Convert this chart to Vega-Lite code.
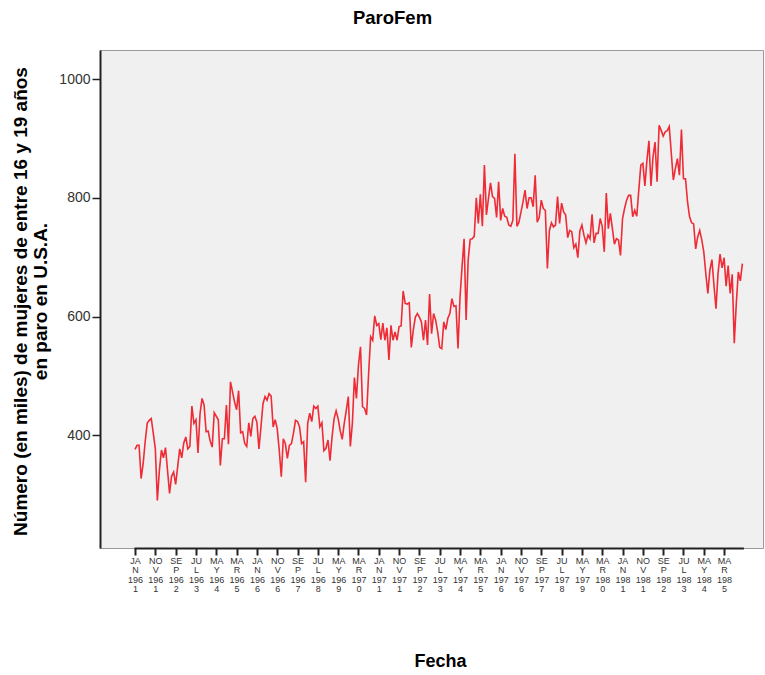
{
  "$schema": "https://vega.github.io/schema/vega-lite/v6.json",
  "width": 663,
  "height": 498,
  "autosize": "none",
  "padding": {"left": 100, "top": 50, "right": 2, "bottom": 127},
  "background": "white",
  "config": {
    "font": "Liberation Sans",
    "view": {"fill": "#f0f0f0", "stroke": "#9a9a9a", "strokeWidth": 1}
  },
  "title": {"text": "ParoFem", "fontSize": 18.5, "fontWeight": "bold", "color": "#000", "anchor": "middle", "dx": -39, "offset": 8, "baseline": "alphabetic"},
  "data": {"values": [
    {"f":"JAN 1961","v":376},{"f":"FEB 1961","v":383},{"f":"MAR 1961","v":383},{"f":"APR 1961","v":327},{"f":"MAY 1961","v":352},{"f":"JUN 1961","v":389},{"f":"JUL 1961","v":420},{"f":"AUG 1961","v":425},{"f":"SEP 1961","v":428},{"f":"OCT 1961","v":403},{"f":"NOV 1961","v":377},{"f":"DEC 1961","v":290},
    {"f":"JAN 1962","v":341},{"f":"FEB 1962","v":375},{"f":"MAR 1962","v":362},{"f":"APR 1962","v":379},{"f":"MAY 1962","v":341},{"f":"JUN 1962","v":302},{"f":"JUL 1962","v":331},{"f":"AUG 1962","v":338},{"f":"SEP 1962","v":317},{"f":"OCT 1962","v":347},{"f":"NOV 1962","v":377},{"f":"DEC 1962","v":362},
    {"f":"JAN 1963","v":387},{"f":"FEB 1963","v":397},{"f":"MAR 1963","v":377},{"f":"APR 1963","v":381},{"f":"MAY 1963","v":449},{"f":"JUN 1963","v":420},{"f":"JUL 1963","v":426},{"f":"AUG 1963","v":370},{"f":"SEP 1963","v":436},{"f":"OCT 1963","v":462},{"f":"NOV 1963","v":451},{"f":"DEC 1963","v":406},
    {"f":"JAN 1964","v":407},{"f":"FEB 1964","v":390},{"f":"MAR 1964","v":380},{"f":"APR 1964","v":438},{"f":"MAY 1964","v":432},{"f":"JUN 1964","v":426},{"f":"JUL 1964","v":349},{"f":"AUG 1964","v":394},{"f":"SEP 1964","v":394},{"f":"OCT 1964","v":451},{"f":"NOV 1964","v":385},{"f":"DEC 1964","v":490},
    {"f":"JAN 1965","v":473},{"f":"FEB 1965","v":456},{"f":"MAR 1965","v":443},{"f":"APR 1965","v":475},{"f":"MAY 1965","v":404},{"f":"JUN 1965","v":406},{"f":"JUL 1965","v":386},{"f":"AUG 1965","v":381},{"f":"SEP 1965","v":421},{"f":"OCT 1965","v":398},{"f":"NOV 1965","v":428},{"f":"DEC 1965","v":432},
    {"f":"JAN 1966","v":422},{"f":"FEB 1966","v":377},{"f":"MAR 1966","v":414},{"f":"APR 1966","v":453},{"f":"MAY 1966","v":465},{"f":"JUN 1966","v":459},{"f":"JUL 1966","v":470},{"f":"AUG 1966","v":466},{"f":"SEP 1966","v":414},{"f":"OCT 1966","v":426},{"f":"NOV 1966","v":411},{"f":"DEC 1966","v":375},
    {"f":"JAN 1967","v":330},{"f":"FEB 1967","v":394},{"f":"MAR 1967","v":386},{"f":"APR 1967","v":361},{"f":"MAY 1967","v":383},{"f":"JUN 1967","v":386},{"f":"JUL 1967","v":403},{"f":"AUG 1967","v":425},{"f":"SEP 1967","v":423},{"f":"OCT 1967","v":414},{"f":"NOV 1967","v":386},{"f":"DEC 1967","v":389},
    {"f":"JAN 1968","v":321},{"f":"FEB 1968","v":420},{"f":"MAR 1968","v":437},{"f":"APR 1968","v":423},{"f":"MAY 1968","v":449},{"f":"JUN 1968","v":445},{"f":"JUL 1968","v":449},{"f":"AUG 1968","v":414},{"f":"SEP 1968","v":421},{"f":"OCT 1968","v":374},{"f":"NOV 1968","v":378},{"f":"DEC 1968","v":392},
    {"f":"JAN 1969","v":357},{"f":"FEB 1969","v":397},{"f":"MAR 1969","v":428},{"f":"APR 1969","v":441},{"f":"MAY 1969","v":428},{"f":"JUN 1969","v":408},{"f":"JUL 1969","v":393},{"f":"AUG 1969","v":420},{"f":"SEP 1969","v":442},{"f":"OCT 1969","v":465},{"f":"NOV 1969","v":381},{"f":"DEC 1969","v":420},
    {"f":"JAN 1970","v":497},{"f":"FEB 1970","v":462},{"f":"MAR 1970","v":518},{"f":"APR 1970","v":549},{"f":"MAY 1970","v":448},{"f":"JUN 1970","v":445},{"f":"JUL 1970","v":434},{"f":"AUG 1970","v":504},{"f":"SEP 1970","v":566},{"f":"OCT 1970","v":560},{"f":"NOV 1970","v":601},{"f":"DEC 1970","v":585},
    {"f":"JAN 1971","v":588},{"f":"FEB 1971","v":561},{"f":"MAR 1971","v":589},{"f":"APR 1971","v":560},{"f":"MAY 1971","v":581},{"f":"JUN 1971","v":527},{"f":"JUL 1971","v":585},{"f":"AUG 1971","v":560},{"f":"SEP 1971","v":574},{"f":"OCT 1971","v":560},{"f":"NOV 1971","v":583},{"f":"DEC 1971","v":584},
    {"f":"JAN 1972","v":643},{"f":"FEB 1972","v":622},{"f":"MAR 1972","v":621},{"f":"APR 1972","v":623},{"f":"MAY 1972","v":548},{"f":"JUN 1972","v":577},{"f":"JUL 1972","v":599},{"f":"AUG 1972","v":605},{"f":"SEP 1972","v":599},{"f":"OCT 1972","v":591},{"f":"NOV 1972","v":560},{"f":"DEC 1972","v":594},
    {"f":"JAN 1973","v":552},{"f":"FEB 1973","v":638},{"f":"MAR 1973","v":571},{"f":"APR 1973","v":605},{"f":"MAY 1973","v":594},{"f":"JUN 1973","v":574},{"f":"JUL 1973","v":548},{"f":"AUG 1973","v":546},{"f":"SEP 1973","v":591},{"f":"OCT 1973","v":578},{"f":"NOV 1973","v":597},{"f":"DEC 1973","v":605},
    {"f":"JAN 1974","v":630},{"f":"FEB 1974","v":617},{"f":"MAR 1974","v":618},{"f":"APR 1974","v":546},{"f":"MAY 1974","v":633},{"f":"JUN 1974","v":684},{"f":"JUL 1974","v":731},{"f":"AUG 1974","v":594},{"f":"SEP 1974","v":695},{"f":"OCT 1974","v":730},{"f":"NOV 1974","v":731},{"f":"DEC 1974","v":735},
    {"f":"JAN 1975","v":800},{"f":"FEB 1975","v":757},{"f":"MAR 1975","v":806},{"f":"APR 1975","v":752},{"f":"MAY 1975","v":855},{"f":"JUN 1975","v":771},{"f":"JUL 1975","v":799},{"f":"AUG 1975","v":825},{"f":"SEP 1975","v":802},{"f":"OCT 1975","v":799},{"f":"NOV 1975","v":767},{"f":"DEC 1975","v":827},
    {"f":"JAN 1976","v":762},{"f":"FEB 1976","v":782},{"f":"MAR 1976","v":769},{"f":"APR 1976","v":767},{"f":"MAY 1976","v":754},{"f":"JUN 1976","v":752},{"f":"JUL 1976","v":762},{"f":"AUG 1976","v":874},{"f":"SEP 1976","v":752},{"f":"OCT 1976","v":759},{"f":"NOV 1976","v":776},{"f":"DEC 1976","v":793},
    {"f":"JAN 1977","v":813},{"f":"FEB 1977","v":782},{"f":"MAR 1977","v":800},{"f":"APR 1977","v":800},{"f":"MAY 1977","v":785},{"f":"JUN 1977","v":838},{"f":"JUL 1977","v":759},{"f":"AUG 1977","v":767},{"f":"SEP 1977","v":796},{"f":"OCT 1977","v":782},{"f":"NOV 1977","v":779},{"f":"DEC 1977","v":681},
    {"f":"JAN 1978","v":745},{"f":"FEB 1978","v":758},{"f":"MAR 1978","v":751},{"f":"APR 1978","v":754},{"f":"MAY 1978","v":802},{"f":"JUN 1978","v":757},{"f":"JUL 1978","v":791},{"f":"AUG 1978","v":776},{"f":"SEP 1978","v":771},{"f":"OCT 1978","v":733},{"f":"NOV 1978","v":745},{"f":"DEC 1978","v":743},
    {"f":"JAN 1979","v":716},{"f":"FEB 1979","v":722},{"f":"MAR 1979","v":699},{"f":"APR 1979","v":744},{"f":"MAY 1979","v":754},{"f":"JUN 1979","v":737},{"f":"JUL 1979","v":724},{"f":"AUG 1979","v":737},{"f":"SEP 1979","v":731},{"f":"OCT 1979","v":772},{"f":"NOV 1979","v":724},{"f":"DEC 1979","v":740},
    {"f":"JAN 1980","v":740},{"f":"FEB 1980","v":765},{"f":"MAR 1980","v":752},{"f":"APR 1980","v":709},{"f":"MAY 1980","v":808},{"f":"JUN 1980","v":748},{"f":"JUL 1980","v":774},{"f":"AUG 1980","v":748},{"f":"SEP 1980","v":722},{"f":"OCT 1980","v":731},{"f":"NOV 1980","v":729},{"f":"DEC 1980","v":703},
    {"f":"JAN 1981","v":765},{"f":"FEB 1981","v":782},{"f":"MAR 1981","v":796},{"f":"APR 1981","v":804},{"f":"MAY 1981","v":804},{"f":"JUN 1981","v":768},{"f":"JUL 1981","v":779},{"f":"AUG 1981","v":769},{"f":"SEP 1981","v":813},{"f":"OCT 1981","v":855},{"f":"NOV 1981","v":858},{"f":"DEC 1981","v":820},
    {"f":"JAN 1982","v":863},{"f":"FEB 1982","v":896},{"f":"MAR 1982","v":820},{"f":"APR 1982","v":869},{"f":"MAY 1982","v":894},{"f":"JUN 1982","v":827},{"f":"JUL 1982","v":922},{"f":"AUG 1982","v":914},{"f":"SEP 1982","v":904},{"f":"OCT 1982","v":911},{"f":"NOV 1982","v":913},{"f":"DEC 1982","v":920},
    {"f":"JAN 1983","v":875},{"f":"FEB 1983","v":830},{"f":"MAR 1983","v":849},{"f":"APR 1983","v":866},{"f":"MAY 1983","v":838},{"f":"JUN 1983","v":915},{"f":"JUL 1983","v":832},{"f":"AUG 1983","v":832},{"f":"SEP 1983","v":793},{"f":"OCT 1983","v":768},{"f":"NOV 1983","v":758},{"f":"DEC 1983","v":756},
    {"f":"JAN 1984","v":714},{"f":"FEB 1984","v":734},{"f":"MAR 1984","v":745},{"f":"APR 1984","v":729},{"f":"MAY 1984","v":709},{"f":"JUN 1984","v":672},{"f":"JUL 1984","v":639},{"f":"AUG 1984","v":678},{"f":"SEP 1984","v":696},{"f":"OCT 1984","v":653},{"f":"NOV 1984","v":613},{"f":"DEC 1984","v":672},
    {"f":"JAN 1985","v":705},{"f":"FEB 1985","v":682},{"f":"MAR 1985","v":699},{"f":"APR 1985","v":651},{"f":"MAY 1985","v":686},{"f":"JUN 1985","v":639},{"f":"JUL 1985","v":671},{"f":"AUG 1985","v":555},{"f":"SEP 1985","v":622},{"f":"OCT 1985","v":675},{"f":"NOV 1985","v":660},{"f":"DEC 1985","v":689}
  ]},
  "mark": {"type": "line", "color": "#ef2b36", "strokeWidth": 1.6},
  "encoding": {
    "x": {
      "field": "f", "type": "ordinal", "sort": null,
      "scale": {"type": "point", "range": [34, 643.4]},
      "axis": {
        "values": ["JAN 1961","NOV 1961","SEP 1962","JUL 1963","MAY 1964","MAR 1965","JAN 1966","NOV 1966","SEP 1967","JUL 1968","MAY 1969","MAR 1970","JAN 1971","NOV 1971","SEP 1972","JUL 1973","MAY 1974","MAR 1975","JAN 1976","NOV 1976","SEP 1977","JUL 1978","MAY 1979","MAR 1980","JAN 1981","NOV 1981","SEP 1982","JUL 1983","MAY 1984","MAR 1985"],
        "labelExpr": "[slice(datum.value,0,2), slice(datum.value,2,3), slice(datum.value,4,7), slice(datum.value,7,8)]",
        "labelAngle": 0, "labelFontSize": 9, "labelLineHeight": 9.5, "labelColor": "#333", "labelBaseline": "top", "labelPadding": 1,
        "tickSize": 7, "tickWidth": 2, "tickColor": "#222",
        "domainColor": "#222", "domainWidth": 2,
        "grid": false,
        "title": "Fecha", "titleFontSize": 18, "titleFontWeight": "bold", "titleColor": "#000",
        "titleX": 340, "titleY": 104, "titleBaseline": "top", "titleAnchor": null
      }
    },
    "y": {
      "field": "v", "type": "quantitative",
      "scale": {"domain": [210, 1049], "nice": false, "zero": false},
      "axis": {
        "values": [400, 600, 800, 1000],
        "format": "d",
        "labelFontSize": 14, "labelColor": "#333", "labelPadding": 2,
        "tickSize": 8, "tickWidth": 1.5, "tickColor": "#222",
        "domainColor": "#222", "domainWidth": 2,
        "grid": false,
        "title": ["Número (en miles) de mujeres de entre 16 y 19 años", "en paro en U.S.A."],
        "titleFontSize": 19, "titleFontWeight": "bold", "titleColor": "#000",
        "titleAngle": 270, "titleX": -89, "titleY": 251, "titleBaseline": "top", "titleAlign": "center", "titleLineHeight": 20
      }
    }
  }
}
